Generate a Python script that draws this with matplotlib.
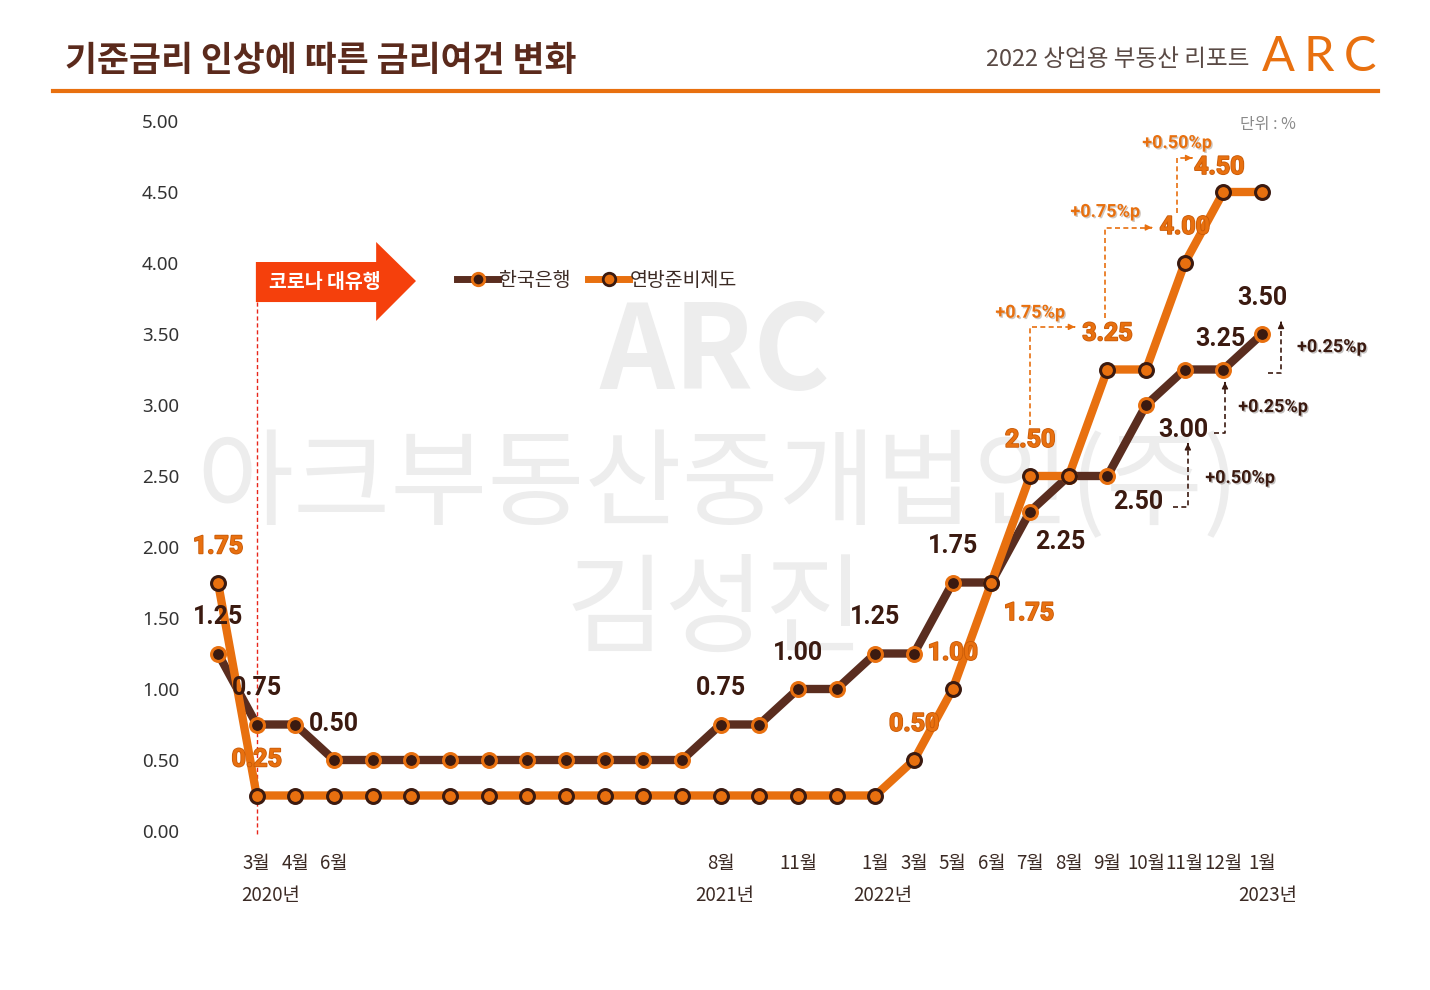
import matplotlib
matplotlib.use('Agg')
import matplotlib.pyplot as plt
import matplotlib.patheffects as pe
from matplotlib.patches import Polygon
from matplotlib.lines import Line2D

plt.rcParams['font.family'] = ['Noto Sans CJK KR', 'DejaVu Sans']

# ---- data ----
korea = [1.25, 0.75, 0.75, 0.50, 0.50, 0.50, 0.50, 0.50, 0.50, 0.50, 0.50, 0.50, 0.50, 0.75,
         0.75, 1.00, 1.00, 1.25, 1.25, 1.75, 1.75, 2.25, 2.50, 2.50, 3.00, 3.25, 3.25, 3.50]
fed = [1.75, 0.25, 0.25, 0.25, 0.25, 0.25, 0.25, 0.25, 0.25, 0.25, 0.25, 0.25, 0.25, 0.25,
       0.25, 0.25, 0.25, 0.25, 0.50, 1.00, 1.75, 2.50, 2.50, 3.25, 3.25, 4.00, 4.50, 4.50]
month_idx = [1, 2, 3, 13, 15, 17, 18, 19, 20, 21, 22, 23, 24, 25, 26, 27]
month_labels = ['3월', '4월', '6월', '8월', '11월', '1월', '3월', '5월', '6월', '7월', '8월',
                '9월', '10월', '11월', '12월', '1월']
year_labels = ['2020년', '2021년', '2022년', '2023년']
year_pos = [1.37, 13.1, 17.2, 27.15]
yticks = [0, 0.5, 1, 1.5, 2, 2.5, 3, 3.5, 4, 4.5, 5]

# labelled points: index, dx(pt), dy(pt)
fed_lab = [(0, 0, 26), (1, 0, 26), (18, 0, 26), (19, 0, 26), (20, 27, -22), (21, 0, 26),
           (23, 0, 26), (25, 0, 26), (26, -3, 18)]
kor_lab = [(0, 0, 26), (1, 0, 26), (3, 0, 26), (13, 0, 26), (15, 0, 26), (17, 0, 26),
           (19, 0, 26), (21, 22, -22), (23, 22, -19), (24, 27, -18), (26, -2, 22), (27, 0, 26)]

BROWN = '#5a2d1f'
DARK = '#3b1a10'
ORANGE = '#e8700f'

fig = plt.figure(figsize=(14.3, 9.9), dpi=100)
ax = fig.add_axes([200 / 1430, 159 / 990, 1100 / 1430, 710 / 990])
x = list(range(len(korea)))

ax.plot(x, korea, color=BROWN, lw=6, solid_joinstyle='miter', zorder=3, clip_on=False)
ax.plot(x, fed, color=ORANGE, lw=6, solid_joinstyle='miter', zorder=4, clip_on=False)
ax.plot(x, korea, 'o', ms=10, mfc=DARK, mec=ORANGE, mew=2.2, zorder=5, clip_on=False)
ax.plot(x, fed, 'o', ms=10, mfc=ORANGE, mec=DARK, mew=2.2, zorder=6, clip_on=False)

ax.set_xlim(-0.465, 27.98)
ax.set_ylim(0, 5)
for s in ax.spines.values():
    s.set_visible(False)
ax.set_yticks(yticks, [f'{v:.2f}' for v in yticks], fontsize=13.5, color='#333333',
              family=['Noto Sans', 'DejaVu Sans'])
ax.set_xticks(month_idx, month_labels, fontsize=13.5, color='#3b2a24')
ax.tick_params(length=0)
ax.tick_params(axis='y', pad=15)
ax.tick_params(axis='x', pad=16)
for yl, yp in zip(year_labels, year_pos):
    ax.text(yp, -0.455, yl, ha='center', va='center', fontsize=13.5, color='#3b2a24')

# watermark (inside the axes so it stays behind the lines)
wm = dict(ha='center', va='center', color='#ededed', zorder=0, transform=fig.transFigure)
ax.text(715 / 1430, 1 - 355 / 990, 'ARC', fontsize=84, weight='bold', **wm)
ax.text(718 / 1430, 1 - 487 / 990, '아크부동산중개법인(주)', fontsize=76, **wm)
ax.text(715 / 1430, 1 - 614 / 990, '김성진', fontsize=78, **wm)

# value labels
shadow = [pe.withSimplePatchShadow(offset=(1, -1), alpha=0.25)]
for i, dx, dy in fed_lab:
    ax.annotate(f'{fed[i]:.2f}', (i, fed[i]), xytext=(dx, dy), textcoords='offset points',
                ha='center', va='center', fontsize=18, weight='bold', family='Roboto',
                color=ORANGE, zorder=7,
                path_effects=[pe.withStroke(linewidth=1.2, foreground='#c85a08')])
for i, dx, dy in kor_lab:
    ax.annotate(f'{korea[i]:.2f}', (i, korea[i]), xytext=(dx, dy), textcoords='offset points',
                ha='center', va='center', fontsize=18, weight='bold', family='Roboto',
                color=DARK, zorder=7)


def step_arrow(pts, color, label, lpos):
    xs = [p[0] for p in pts]
    ys = [p[1] for p in pts]
    ax.plot(xs, ys, ls='--', lw=1.2, color=color, zorder=6, clip_on=False, dashes=(3, 2))
    ax.annotate('', xy=pts[-1], xytext=(pts[-1][0] - (pts[-1][0] - pts[-2][0]) * 0.01,
                                        pts[-1][1] - (pts[-1][1] - pts[-2][1]) * 0.01),
                arrowprops=dict(arrowstyle='-|>', color=color, lw=1, mutation_scale=9),
                annotation_clip=False)
    ax.text(lpos[0], lpos[1], label, ha='center', va='center', fontsize=13, weight='bold',
            family='Roboto', color=color, zorder=7, path_effects=shadow)


# Fed steps
step_arrow([(21, fed[21] + 0.36), (21, fed[23] + 0.30), (22.16, fed[23] + 0.30)],
           ORANGE, '+0.75%p', (21, fed[23] + 0.40))
step_arrow([(22.94, fed[23] + 0.36), (22.94, fed[25] + 0.25), (24.15, fed[25] + 0.25)],
           ORANGE, '+0.75%p', (22.94, fed[25] + 0.36))
step_arrow([(24.8, fed[25] + 0.35), (24.8, fed[26] + 0.24), (25.19, fed[26] + 0.24)],
           ORANGE, '+0.50%p', (24.8, fed[26] + 0.345))
# Korea steps
step_arrow([(24.7, korea[23] - 0.22), (25.08, korea[23] - 0.22), (25.08, korea[24] - 0.27)],
           DARK, '+0.50%p', (26.43, 2.486))
step_arrow([(25.76, korea[24] - 0.20), (26.04, korea[24] - 0.20), (26.04, korea[26] - 0.09)],
           DARK, '+0.25%p', (27.28, 2.986))
step_arrow([(27.15, korea[26] - 0.025), (27.49, korea[26] - 0.025), (27.49, korea[27] + 0.085)],
           DARK, '+0.25%p', (28.8, 3.408))

# corona arrow
arrow = Polygon([(0.98, 4.007), (4.09, 4.007), (4.09, 4.148), (5.12, 3.873), (4.09, 3.592),
                 (4.09, 3.725), (0.98, 3.725)], closed=True, color='#f5400c', zorder=5,
                clip_on=False, lw=0)
ax.add_patch(arrow)
ax.text(2.75, 3.866, '코로나 대유행', ha='center', va='center', fontsize=14, weight='bold',
        color='white', zorder=6)
ax.plot([1, 1], [3.725, -0.02], ls='--', lw=1, color='#e8261a', dashes=(3, 2), zorder=2,
        clip_on=False)

# legend
h1 = Line2D([], [], color=BROWN, lw=5, marker='o', ms=9, mfc=DARK, mec=ORANGE, mew=2)
h2 = Line2D([], [], color=ORANGE, lw=5, marker='o', ms=9, mfc=ORANGE, mec=DARK, mew=2)
ax.legend([h1, h2], ['한국은행', '연방준비제도'], loc='center left', bbox_to_anchor=(0.218, 0.776),
          ncol=2, frameon=False, fontsize=14, handlelength=2.1, handletextpad=0.05,
          columnspacing=0.9, labelcolor='#3b2a24')

ax.text(1268 / 1430, 1 - 124 / 990, '단위 : %', transform=fig.transFigure, ha='center',
        va='center', fontsize=11.5, color='#8a8a8a')

# header
fig.text(65 / 1430, 1 - 60 / 990, '기준금리 인상에 따른 금리여건 변화', ha='left', va='center',
         fontsize=25, weight='heavy', color='#5b2a1c')
fig.text(1250 / 1430, 1 - 59 / 990, '2022 상업용 부동산 리포트', ha='right', va='center',
         fontsize=17, color='#5a4a45')
for ch, px in zip('ARC', [1278, 1319, 1360]):
    fig.text(px / 1430, 1 - 57 / 990, ch, ha='center', va='center', fontsize=35,
             weight='normal', color=ORANGE, family=['Lato', 'DejaVu Sans'])
fig.add_artist(Line2D([53 / 1430, 1378 / 1430], [1 - 91 / 990, 1 - 91 / 990],
                      color=ORANGE, lw=3, transform=fig.transFigure))

fig.savefig('out.png', dpi=100, facecolor='white')
